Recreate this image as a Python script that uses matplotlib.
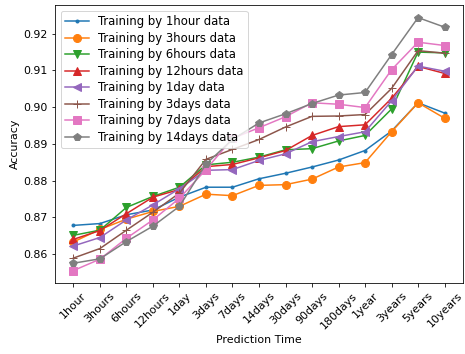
import matplotlib
matplotlib.use('Agg')
import matplotlib.pyplot as plt

# prediction horizons on the x axis
times = ['1hour', '3hours', '6hours', '12hours', '1day', '3days', '7days', '14days',
         '30days', '90days', '180days', '1year', '3years', '5years', '10years']

acc_1hour = [0.8678, 0.8683, 0.8707, 0.8720, 0.8755, 0.8782, 0.8782, 0.8805,
             0.8820, 0.8837, 0.8856, 0.8882, 0.8935, 0.9012, 0.8984]
acc_3hours = [0.8633, 0.8667, 0.8695, 0.8716, 0.8730, 0.8763, 0.8759, 0.8787,
              0.8789, 0.8804, 0.8837, 0.8849, 0.8933, 0.9012, 0.8970]
acc_6hours = [0.8651, 0.8665, 0.8727, 0.8757, 0.8782, 0.8843, 0.8850, 0.8864,
              0.8884, 0.8887, 0.8908, 0.8923, 0.8995, 0.9150, 0.9148]
acc_12hours = [0.8640, 0.8664, 0.8710, 0.8755, 0.8776, 0.8838, 0.8844, 0.8862,
               0.8882, 0.8923, 0.8947, 0.8952, 0.9024, 0.9111, 0.9092]
acc_1day = [0.8622, 0.8645, 0.8693, 0.8734, 0.8778, 0.8828, 0.8830, 0.8855,
            0.8873, 0.8906, 0.8920, 0.8933, 0.9017, 0.9112, 0.9098]
acc_3days = [0.8589, 0.8615, 0.8665, 0.8714, 0.8766, 0.8858, 0.8885, 0.8912,
             0.8946, 0.8975, 0.8976, 0.8980, 0.9051, 0.9154, 0.9147]
acc_7days = [0.8555, 0.8586, 0.8643, 0.8693, 0.8752, 0.8830, 0.8915, 0.8944,
             0.8974, 0.9012, 0.9008, 0.8999, 0.9102, 0.9177, 0.9168]
acc_14days = [0.8575, 0.8587, 0.8634, 0.8676, 0.8730, 0.8845, 0.8912, 0.8957,
              0.8982, 0.9010, 0.9033, 0.9040, 0.9143, 0.9244, 0.9218]

series = [
    (acc_1hour, '.', 'Training by 1hour data'),
    (acc_3hours, 'o', 'Training by 3hours data'),
    (acc_6hours, 'v', 'Training by 6hours data'),
    (acc_12hours, '^', 'Training by 12hours data'),
    (acc_1day, '<', 'Training by 1day data'),
    (acc_3days, '+', 'Training by 3days data'),
    (acc_7days, 's', 'Training by 7days data'),
    (acc_14days, 'p', 'Training by 14days data'),
]

plt.rcParams['font.size'] = 11

fig = plt.figure(figsize=(465 / 72, 354 / 72), dpi=72)
ax = fig.add_axes([0.118, 0.2, 0.878, 0.786])

for vals, mk, lab in series:
    ax.plot(times, vals, marker=mk, markersize=8 if mk != '.' else 6, label=lab)

ax.set_xlabel('Prediction Time')
ax.set_ylabel('Accuracy')
plt.xticks(rotation=45)
ax.legend(loc='upper left', fontsize=11.6, labelspacing=0.3)

fig.savefig('out.png', dpi=72)
